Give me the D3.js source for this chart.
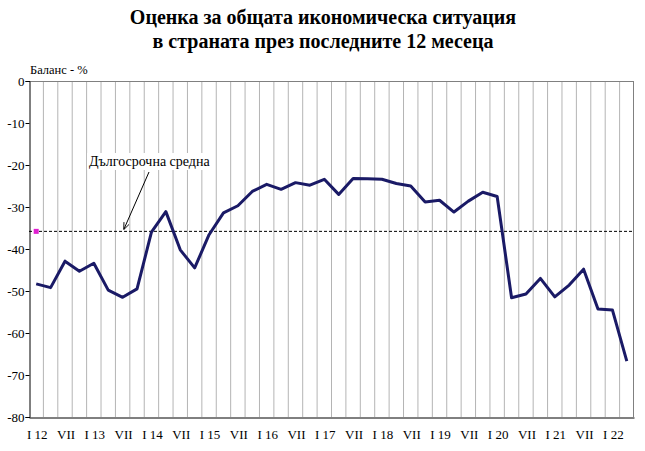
<!DOCTYPE html>
<html><head><meta charset="utf-8">
<script src="https://cdn.jsdelivr.net/npm/d3@7"></script>
<style>body{margin:0;background:#fff}svg{display:block}</style>
</head><body>
<script>
const titleLines = ["Оценка за общата икономическа ситуация", "в страната през последните 12 месеца"];
const yAxisLabel = "Баланс - %";
const annotationText = "Дългосрочна средна";
const quarterNames = ["I", "IV", "VII", "X"];
const years = [12,13,14,15,16,17,18,19,20,21,22];
const values = [
  -48.3, -49.2, -42.9, -45.3,
  -43.4, -49.8, -51.5, -49.5,
  -36.0, -31.1, -40.2, -44.5,
  -36.6, -31.4, -29.7, -26.3,
  -24.6, -25.8, -24.2, -24.8,
  -23.4, -27.0, -23.2, -23.3,
  -23.4, -24.4, -25.0, -28.8,
  -28.4, -31.2, -28.6, -26.5,
  -27.5, -51.6, -50.7, -47.0,
  -51.4, -48.6, -44.8, -54.3,
  -54.5, -66.7
];
const longTermAverage = -35.8;
const yTicks = [0,-10,-20,-30,-40,-50,-60,-70,-80];

const categories = values.map((v,i)=>{
  const q = i%4, y = years[Math.floor(i/4)];
  return q===0 ? "I " + y : quarterNames[q] + "|" + i;
});
const tickLabel = c => c.startsWith("I ") ? c : c.split("|")[0];

const W=645,H=451;
const m={left:29,right:634,top:81,bottom:417};
const svg=d3.select("body").append("svg").attr("width",W).attr("height",H);
const serif="'Liberation Serif','Times New Roman',serif";

const x=d3.scaleBand().domain(categories).range([m.left,m.right]).padding(0);
const y=d3.scaleLinear().domain([-80,0]).range([m.bottom,m.top]);

// vertical gridlines at band edges
const edges=categories.map(c=>x(c)).slice(1);
svg.append("g").selectAll("line").data(edges).join("line")
  .attr("x1",d=>d).attr("x2",d=>d).attr("y1",m.top).attr("y2",m.bottom)
  .attr("stroke","#b4b4b4").attr("stroke-width",1);

// plot border top/right
svg.append("line").attr("x1",m.left).attr("x2",m.right).attr("y1",m.top+0.5).attr("y2",m.top+0.5).attr("stroke","#808080");
svg.append("line").attr("x1",m.right-0.5).attr("x2",m.right-0.5).attr("y1",m.top).attr("y2",m.bottom).attr("stroke","#808080");

// long-term average dashed
svg.append("line").attr("x1",m.left).attr("x2",m.right)
  .attr("y1",y(longTermAverage)).attr("y2",y(longTermAverage))
  .attr("stroke","#000").attr("stroke-width",1).attr("stroke-dasharray","3,2");

// y axis
const yAxis=d3.axisLeft(y).tickValues(yTicks).tickSize(4).tickFormat(d=>String(d));
const gy=svg.append("g").attr("transform",`translate(${m.left+0.5},0)`).call(yAxis);
gy.attr("font-family",serif).attr("font-size",13);
gy.selectAll("text").attr("font-family",serif).attr("font-size",13).attr("fill","#000").attr("x",-5);
gy.select(".domain").attr("stroke","#000");
gy.selectAll(".tick line").attr("stroke","#000");

// x axis
const xAxis=d3.axisBottom(x).tickSize(0).tickValues(categories.filter((c,i)=>i%2===0)).tickFormat(tickLabel);
const gx=svg.append("g").attr("transform",`translate(0,${m.bottom+0.5})`).call(xAxis);
gx.attr("font-family",serif).attr("font-size",13);
gx.select(".domain").attr("stroke","#000");
gx.selectAll("text").attr("font-family",serif).attr("font-size",13).attr("fill","#000").attr("dy","1.4em").attr("x",1);

// y label
svg.append("text").attr("x",30).attr("y",74).text(yAxisLabel)
  .attr("font-family",serif).attr("font-size",12.5).attr("fill","#000");

// data line
const line=d3.line().x((d,i)=>x(categories[i])+x.bandwidth()/2).y(d=>y(d));
svg.append("path").datum(values).attr("d",line).attr("fill","none")
  .attr("stroke","#1a1a66").attr("stroke-width",3).attr("stroke-linejoin","round");

// pink marker
svg.append("rect").attr("x",x(categories[0])+x.bandwidth()/2-2.5).attr("y",y(longTermAverage)-2.5)
  .attr("width",5).attr("height",5).attr("fill","#e020d0");

// annotation
const ag=svg.append("g");
const abg=ag.append("rect").attr("fill","#fff");
const at=ag.append("text").attr("x",89).attr("y",166).text(annotationText)
  .attr("font-family",serif).attr("font-size",14).attr("fill","#000");
const bb=at.node().getBBox();
abg.attr("x",bb.x-2).attr("y",bb.y-1).attr("width",bb.width+4).attr("height",bb.height+2);
svg.append("defs").append("marker").attr("id","ah").attr("viewBox","0 0 10 10").attr("refX",9).attr("refY",5)
  .attr("markerWidth",7).attr("markerHeight",7).attr("orient","auto")
  .append("path").attr("d","M0,1 L10,5 L0,9").attr("fill","none").attr("stroke","#000").attr("stroke-width",1.2);
svg.append("line").attr("x1",149).attr("y1",172).attr("x2",124).attr("y2",229)
  .attr("stroke","#000").attr("stroke-width",1).attr("marker-end","url(#ah)");

// title
titleLines.forEach((t,i)=>{
  svg.append("text").attr("x",323).attr("y",24+i*24).attr("text-anchor","middle").text(t)
   .attr("font-family",serif).attr("font-weight","bold").attr("font-size",20).attr("fill","#000");
});
</script>
</body></html>
